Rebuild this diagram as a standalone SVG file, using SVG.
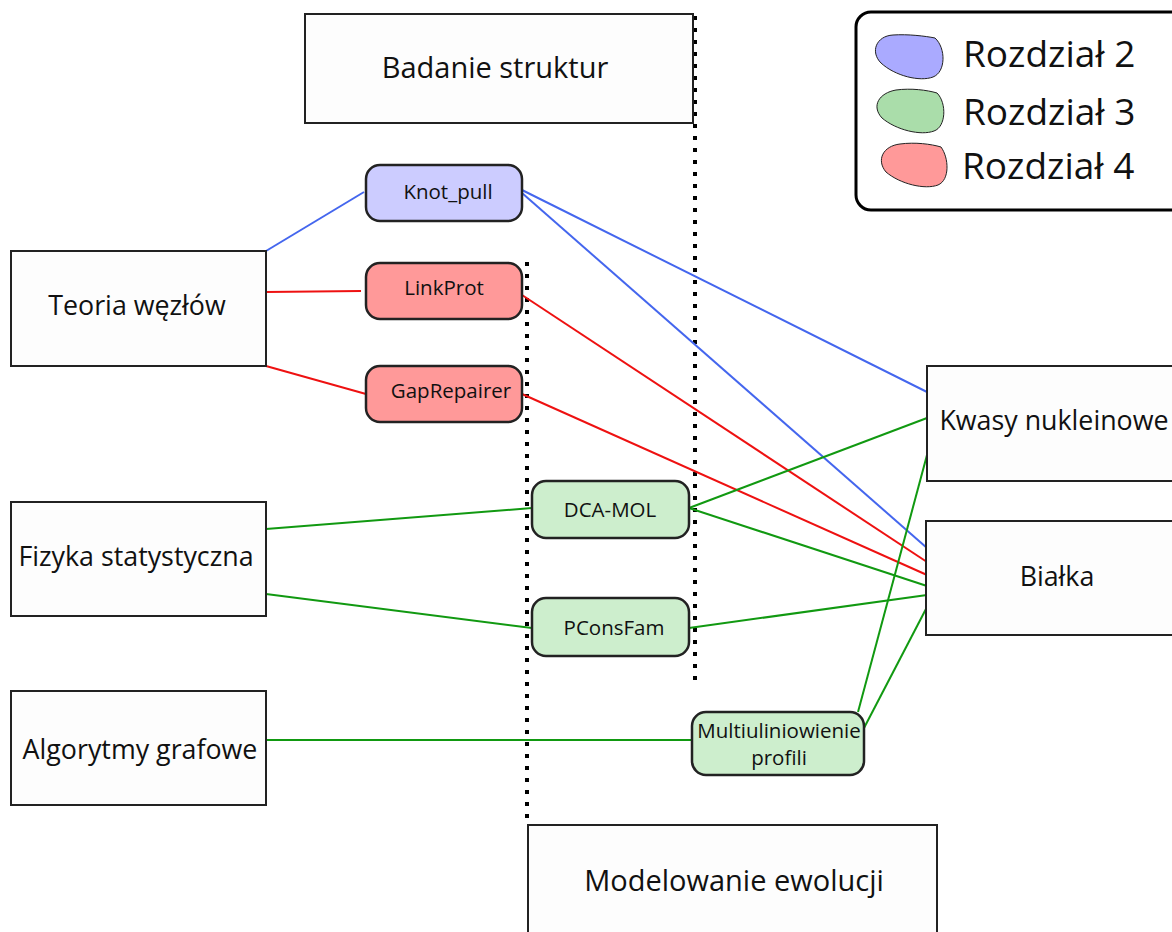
<svg xmlns="http://www.w3.org/2000/svg" width="1172" height="932" viewBox="0 0 1172 932">
<style>
.box{fill:#fdfdfd;stroke:#222;stroke-width:2}
.rb{stroke:#222;stroke-width:2.5}
.t{font-family:"Open Sans","DejaVu Sans",sans-serif;fill:#111;text-anchor:middle}
.big{font-size:29px}
.mid{font-size:26.8px}
.sm{font-size:20.5px}
.lg{font-size:37px;text-anchor:start}
.dot{stroke:#000;stroke-width:4;stroke-dasharray:4 8;fill:none}
.b{stroke:#4466ee;stroke-width:2;fill:none}
.r{stroke:#ee1111;stroke-width:2;fill:none}
.g{stroke:#119911;stroke-width:2;fill:none}
</style>
<rect width="1172" height="932" fill="#fff"/>
<g id="dividers">
<line class="dot" x1="695" y1="16" x2="695" y2="680"/>
<line class="dot" x1="527" y1="262" x2="527" y2="826"/>
</g>
<g id="connectors">
<line class="b" x1="266" y1="251" x2="364" y2="192"/>
<line class="b" x1="522" y1="190" x2="927" y2="392"/>
<line class="b" x1="522" y1="193" x2="927" y2="548"/>
<line class="r" x1="266" y1="292" x2="361" y2="291"/>
<line class="r" x1="266" y1="366" x2="366" y2="394"/>
<line class="r" x1="522" y1="295" x2="927" y2="562"/>
<line class="r" x1="522" y1="394" x2="927" y2="575"/>
<line class="g" x1="266" y1="529" x2="532" y2="508"/>
<line class="g" x1="266" y1="594" x2="532" y2="628"/>
<line class="g" x1="689" y1="508" x2="927" y2="418"/>
<line class="g" x1="689" y1="508" x2="927" y2="586"/>
<line class="g" x1="689" y1="628" x2="927" y2="595"/>
<line class="g" x1="266" y1="740" x2="692" y2="740"/>
<line class="g" x1="858" y1="712" x2="927" y2="455"/>
<line class="g" x1="864" y1="728" x2="927" y2="607"/>
</g>
<g id="badanie"><rect class="box" x="305" y="14" width="388" height="109"/><text class="t big" x="495" y="78">Badanie struktur</text></g>
<g id="modelowanie"><rect class="box" x="528" y="825" width="409" height="120"/><text class="t big" x="734" y="891">Modelowanie ewolucji</text></g>
<g id="teoria"><rect class="box" x="11" y="251" width="255" height="115"/><text class="t mid" x="137" y="315">Teoria węzłów</text></g>
<g id="fizyka"><rect class="box" x="11" y="502" width="255" height="114"/><text class="t mid" x="136" y="566">Fizyka statystyczna</text></g>
<g id="algorytmy"><rect class="box" x="11" y="691" width="255" height="114"/><text class="t mid" x="140" y="759">Algorytmy grafowe</text></g>
<g id="kwasy"><rect class="box" x="927" y="366" width="260" height="115"/><text class="t mid" x="1054" y="430">Kwasy nukleinowe</text></g>
<g id="bialka"><rect class="box" x="926" y="521" width="260" height="114"/><text class="t mid" x="1057" y="586">Białka</text></g>
<g id="knot_pull"><rect class="rb" fill="#ccccff" x="366" y="165" width="156" height="56" rx="14"/><text class="t sm" x="448" y="199">Knot_pull</text></g>
<g id="linkprot"><rect class="rb" fill="#ff9999" x="366" y="263" width="156" height="56" rx="14"/><text class="t sm" x="444" y="295">LinkProt</text></g>
<g id="gaprepairer"><rect class="rb" fill="#ff9999" x="366" y="366" width="156" height="56" rx="14"/><text class="t sm" x="451" y="398">GapRepairer</text></g>
<g id="dcamol"><rect class="rb" fill="#cdeecd" x="532" y="481" width="157" height="57" rx="14"/><text class="t sm" x="610" y="517">DCA-MOL</text></g>
<g id="pconsfam"><rect class="rb" fill="#cdeecd" x="532" y="598" width="157" height="58" rx="14"/><text class="t sm" x="614" y="635">PConsFam</text></g>
<g id="multi"><rect class="rb" fill="#cdeecd" x="692" y="712" width="172" height="63" rx="14"/><text class="t sm" x="779" y="738">Multiuliniowienie</text><text class="t sm" x="779" y="765">profili</text></g>
<g id="legend">
<rect x="856" y="12" width="330" height="198" rx="15" fill="#fff" stroke="#000" stroke-width="3"/>
<path d="M935,38 C946,48 946,72 933,77 C920,82 895,76 881,63 C870,52 876,36 893,35 C908,34 925,36 935,38 Z" fill="#aaaaff" stroke="#222" stroke-width="1"/>
<path d="M937,93 C947,103 946,127 934,131 C921,136 896,130 882,118 C871,106 879,93 896,90 C911,88 927,90 937,93 Z" fill="#aaddaa" stroke="#222" stroke-width="1"/>
<path d="M941,147 C949,158 950,180 938,185 C925,190 900,184 886,172 C876,160 883,146 900,144 C915,142 931,144 941,147 Z" fill="#ff9999" stroke="#222" stroke-width="1"/>
<text class="t lg" x="963" y="67">Rozdział 2</text>
<text class="t lg" x="963" y="125">Rozdział 3</text>
<text class="t lg" x="962" y="179">Rozdział 4</text>
</g>
</svg>
